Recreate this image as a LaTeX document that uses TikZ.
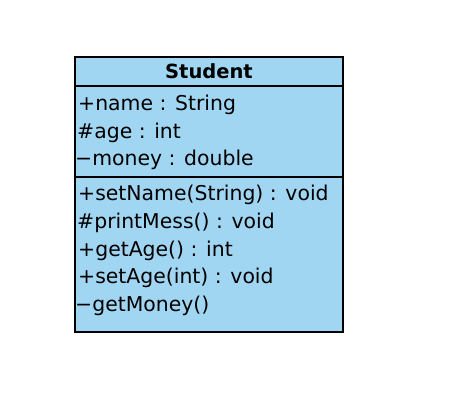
\documentclass[tikz,border=0pt]{standalone}
\usepackage{fontspec}
\setmainfont{DejaVu Sans}
\usepackage{xcolor}
\definecolor{umlblue}{RGB}{161,214,243}
\begin{document}
\begin{tikzpicture}[x=1pt, y=-1pt, part/.style={rectangle, draw, fill=umlblue, line width=1.5pt, minimum width=268pt, inner sep=0pt}, entry/.style={anchor=base west, inner sep=0pt, font=\fontsize{20.4}{24}\selectfont}]
\useasboundingbox (0,0) rectangle (462,418);
\node[part, minimum height=29pt] (title) at (209,71.5) {};
\node[part, minimum height=91pt] (attrs) at (209,131.5) {};
\node[part, minimum height=155pt] (meths) at (209,254.5) {};
\node[entry, anchor=base, font=\fontsize{19.5}{24}\selectfont\bfseries] (cname) at (209,78.3) {Student};
\node[entry] (a1) at (78,110.7) {+name : String};
\node[entry] (a2) at (77,138) {\#age : int};
\node[entry] (a3) at (75,165.5) {−money : double};
\node[entry] (m1) at (78,200.7) {+setName(String) : void};
\node[entry] (m2) at (77,228.3) {\#printMess() : void};
\node[entry] (m3) at (78,256) {+getAge() : int};
\node[entry] (m4) at (78,283.7) {+setAge(int) : void};
\node[entry] (m5) at (75,311.3) {−getMoney()};
\end{tikzpicture}
\end{document}
